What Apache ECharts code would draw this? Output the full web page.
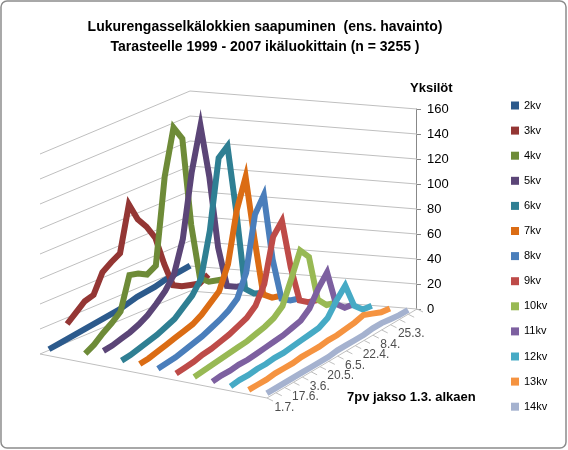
<!DOCTYPE html>
<html><head><meta charset="utf-8">
<script src="https://cdn.jsdelivr.net/npm/echarts@6/dist/echarts.min.js"></script>
<style>html,body{margin:0;padding:0;background:#fff}#c{width:568px;height:450px}</style>
</head><body><div id="c"></div>
<script>
const weeks = ['11.3.','18.3.','25.3.','1.4.','8.4.','15.4.','22.4.','29.4.','6.5.','13.5.','20.5.','27.5.','3.6.','10.6.','17.6.','24.6.','1.7.'];
const weekLabels = ['25.3.','8.4.','22.4.','6.5.','20.5.','3.6.','17.6.','1.7.'];
const yTicks = [0,20,40,60,80,100,120,140,160];
const seriesNames = ['2kv','3kv','4kv','5kv','6kv','7kv','8kv','9kv','10kv','11kv','12kv','13kv','14kv'];
const colors = ['#2C5A8C','#943634','#6E8B38','#5B4577','#2F7F93','#DB6C14','#4A7EBB','#BE4B48','#98B954','#7D60A0','#46AAC5','#F59340','#A5B2CF'];
const v2 = [22,21,20,19,17,16,15,13,11,10,9,8,7,6,5,4,3];
const v3 = [16,12,14,16,20,40,64,76,85,100,64,60,55,40,38,32,26];
const v4 = [14,16,18,24,70,142,154,118,50,46,50,52,26,20,15,9,5];
const v5 = [10,12,16,50,110,154,120,70,45,35,28,22,18,15,13,11,10];
const v6 = [5,8,15,80,136,130,75,40,30,24,18,15,12,10,8,6,5];
const v7 = [4,6,12,60,113,90,50,32,26,20,16,14,12,10,8,6,5];
const v8 = [3,5,10,45,100,88,45,28,22,18,15,12,10,8,6,5,4];
const v9 = [3,5,10,40,81,72,38,24,18,15,12,10,8,7,5,4,3];
const v10 = [2,4,12,50,59,40,22,16,13,11,9,8,7,6,5,4,3];
const v11 = [2,3,10,39,30,18,12,10,8,7,6,5,4,4,3,3,2];
const v12 = [2,3,10,30,22,12,8,7,6,5,4,4,3,3,2,2,1];
const v13 = [1,2,5,8,6,5,4,4,3,3,3,2,2,2,1,1,1];
const v14 = [1,1,2,3,3,2,2,2,2,1,1,1,1,1,1,1,1];
const values = [v2,v3,v4,v5,v6,v7,v8,v9,v10,v11,v12,v13,v14];

// oblique projection of the 3D box (layout)
const A=[190,291],B=[417,309],F=[40,354],G=[267,398],VS=1.25;
function P(u,f,v){
  const x=A[0]*(1-u)*(1-f)+B[0]*u*(1-f)+F[0]*(1-u)*f+G[0]*u*f;
  const y=A[1]*(1-u)*(1-f)+B[1]*u*(1-f)+F[1]*(1-u)*f+G[1]*u*f;
  return [x,y-VS*v];
}
const nW=weeks.length, nS=seriesNames.length;
const series=[];
const wallStyle={color:'#bfbfbf',width:1};
yTicks.forEach(t=>{
  series.push({type:'line',symbol:'none',silent:true,lineStyle:wallStyle,data:[P(0,1,t),P(0,0,t),P(1,0,t)],z:1});
});
series.push({type:'line',symbol:'none',silent:true,lineStyle:wallStyle,data:[P(0,1,0),P(1,1,0),P(1,0,0)],z:1});
for(let i=0;i<=nW;i++){
  const p=P(1,i/nW,0);
  series.push({type:'line',symbol:'none',silent:true,lineStyle:wallStyle,data:[p,[p[0]+6,p[1]+3]],z:1});
}
values.forEach((arr,s)=>{
  const u=(s+0.25)/12.5;
  series.push({name:seriesNames[s],type:'line',symbol:'none',z:2+s,
    lineStyle:{width:6,color:colors[s],join:'miter'},itemStyle:{color:colors[s]},
    data:arr.map((v,i)=>P(u,(i+0.5)/nW,v))});
});
series.push({type:'scatter',symbolSize:0,silent:true,z:30,
  label:{show:true,position:'right',formatter:p=>p.data.name,fontSize:12,color:'#222',fontFamily:'Liberation Sans',offset:[-2,12]},
  data:weeks.map((w,i)=>({name:w,value:P(1,(i+0.5)/nW,0)})).filter(d=>weekLabels.includes(d.name))});

const chart=echarts.init(document.getElementById('c'));
chart.setOption({
  animation:false,
  textStyle:{fontFamily:'Liberation Sans'},
  title:{text:'Lukurengasselkälokkien saapuminen  (ens. havainto)\nTarasteelle 1999 - 2007 ikäluokittain (n = 3255 )',
    left:260,top:12,textAlign:'center',textStyle:{fontSize:14,fontWeight:'bold',lineHeight:20,color:'#000'}},
  grid:[{left:0,top:0,width:568,height:450},{left:416,top:109,width:1,height:200}],
  xAxis:[{type:'value',min:0,max:568,show:false,gridIndex:0},{type:'value',show:false,gridIndex:1}],
  yAxis:[{type:'value',min:0,max:450,inverse:true,show:false,gridIndex:0},
    {type:'value',gridIndex:1,position:'right',min:0,max:160,interval:20,splitLine:{show:false},
     axisLine:{show:true,lineStyle:{color:'#888'}},axisTick:{show:true,length:5,lineStyle:{color:'#888'}},
     axisLabel:{fontSize:13,color:'#000',margin:10},
     name:'Yksilöt',nameLocation:'end',nameGap:14,nameTextStyle:{fontSize:13,fontWeight:'bold',color:'#000',align:'left',padding:[0,0,0,-6]}}],
  legend:{orient:'vertical',left:506,top:95,itemWidth:8,itemHeight:8,itemGap:14.1,icon:'rect',
    data:seriesNames,textStyle:{fontSize:11,color:'#000'}},
  graphic:[
    {type:'rect',shape:{x:1,y:1,width:565,height:447,r:6},style:{fill:'none',stroke:'#8c8c8c',lineWidth:1.5},silent:true},
    {type:'text',left:347,top:391,style:{text:'7pv jakso 1.3. alkaen',font:'bold 13px Liberation Sans',fill:'#000'}}
  ],
  series:series
});
</script></body></html>
